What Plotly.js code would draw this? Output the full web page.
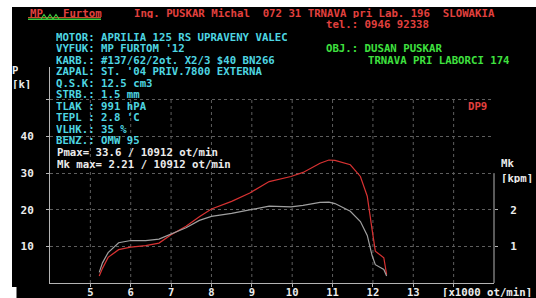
<!DOCTYPE html>
<html>
<head>
<meta charset="utf-8">
<script src="https://cdn.plot.ly/plotly-3.0.1.min.js"></script>
<style>
html,body{margin:0;padding:0;background:#fff;}
#chart{width:536px;height:298px;}
</style>
</head>
<body>
<div id="chart"></div>
<script>
// ---- data ----
const rpmPower = [5.22, 5.30, 5.44, 5.70, 6.00, 6.37, 6.70, 7.00, 7.37, 7.70, 8.00, 8.50, 8.95, 9.43, 9.97, 10.27, 10.69, 10.91, 11.06, 11.44, 11.69, 11.86, 11.98, 12.06, 12.27, 12.34];
const powerK   = [1.9, 4.0, 7.0, 9.1, 9.8, 10.2, 10.9, 13.2, 15.5, 18.1, 20.2, 22.3, 24.6, 27.7, 29.1, 30.2, 32.7, 33.6, 33.5, 32.3, 29.1, 23.7, 14.6, 8.7, 6.9, 2.3];
const rpmTorque = [5.22, 5.30, 5.44, 5.70, 6.00, 6.37, 6.70, 7.00, 7.37, 7.70, 8.00, 8.50, 8.95, 9.43, 9.97, 10.27, 10.69, 10.91, 11.06, 11.44, 11.69, 11.86, 11.98, 12.06, 12.27, 12.34];
const torqueKpm = [0.29, 0.55, 0.83, 1.10, 1.16, 1.16, 1.20, 1.33, 1.51, 1.71, 1.82, 1.90, 1.99, 2.10, 2.08, 2.12, 2.20, 2.21, 2.17, 1.96, 1.68, 1.30, 0.75, 0.50, 0.37, 0.19];

const xTickVals = [5, 6, 7, 8, 9, 10, 11, 12, 13, 14];
const xTickText = ['5', '6', '7', '8', '9', '10', '11', '12', '13', ''];
const yTickVals = [10, 20, 30, 40, 50];
const yTickText = ['10', '20', '30', '40', ''];
const y2TickVals = [1, 2];
const y2TickText = ['1', '2'];

const headerText = 'Ing. PUSKAR Michal  072 31 TRNAVA pri Lab. 196  SLOWAKIA';
const telText = 'tel.: 0946 92338';
const infoLines = [
  'MOTOR: APRILIA 125 RS UPRAVENY VALEC',
  "VYFUK: MP FURTOM '12",
  'KARB.: #137/62/2ot. X2/3 $40 BN266',
  "ZAPAL: ST. '04 PRIV.7800 EXTERNA",
  'Q.S.K: 12.5 cm3',
  'STRB.: 1.5 mm',
  'TLAK : 991 hPA',
  "TEPL : 2.8 'C",
  'VLHK.: 35 %',
  'BENZ.: OMW 95'
];
const maxLines = ['Pmax= 33.6 / 10912 ot/min', 'Mk max= 2.21 / 10912 ot/min'];
const customerLines = ['OBJ.: DUSAN PUSKAR', 'TRNAVA PRI LABORCI 174'];

// ---- layout geometry ----
const W = 536, H = 298;
const M = {l: 50, r: 42, t: 67, b: 15, pad: 0};
const PW = W - M.l - M.r, PH = H - M.t - M.b;
const px = x => (x - M.l) / PW;
const py = y => (H - M.b - y) / PH;
const nb = s => s.replace(/ /g, '\u00a0');

const FONT = 'DejaVu Sans Mono';
const CYAN = '#4ed6e2', RED = '#e2403e', GREEN = '#3fe03f', WHITE = '#ececec';

function txt(text, x, y, color, extra) {
  return Object.assign({
    text: '<b>' + nb(text) + '</b>', xref: 'paper', yref: 'paper',
    x: px(x), y: py(y), xanchor: 'left', yanchor: 'middle',
    showarrow: false, borderpad: 0, height: 10,
    font: {family: FONT, size: 10.7, color: color}
  }, extra || {});
}

const annotations = [];
annotations.push(txt('MP', 29, 13, RED));
annotations.push(txt('Furtom', 62, 13, RED));
annotations.push(txt(headerText, 133, 13, RED));
annotations.push(txt(telText, 325, 24.5, RED));
infoLines.forEach((s, i) => annotations.push(txt(s, 55, 36.5 + 11.55 * i, CYAN)));
maxLines.forEach((s, i) => annotations.push(txt(s, 56, 152 + 11.6 * i, WHITE)));
annotations.push(txt(customerLines[0], 325, 48, GREEN));
annotations.push(txt(customerLines[1], 367, 60, GREEN));
annotations.push(txt('DP9', 467, 106, RED));
annotations.push(txt('P', 11, 70, WHITE));
annotations.push(txt('[k]', 11, 84, WHITE));
annotations.push(txt('Mk', 500, 163, WHITE));
annotations.push(txt('[kpm]', 500, 178, WHITE));
annotations.push(txt('[x1000 ot/min]', 441, 292, WHITE));

const shapes = [];
// black screen background
shapes.push({type: 'rect', xref: 'paper', yref: 'paper', layer: 'below',
  x0: px(12), x1: px(536), y0: py(298), y1: py(7),
  fillcolor: '#000', line: {width: 0}});
shapes.push({type: 'rect', xref: 'paper', yref: 'paper', layer: 'below',
  x0: px(0), x1: px(16.5), y0: py(298), y1: py(287),
  fillcolor: '#fff', line: {width: 0}});
// logo underline & zigzag
shapes.push({type: 'line', xref: 'paper', yref: 'paper', x0: px(28), x1: px(101), y0: py(17.5), y1: py(17.5),
  line: {color: '#c84a2a', width: 1}});
shapes.push({type: 'line', xref: 'paper', yref: 'paper', x0: px(28), x1: px(101), y0: py(19.3), y1: py(19.3),
  line: {color: '#3cc83c', width: 1.6}});
const zz = [[41,19],[44,14.5],[47,19],[50,14.5],[53,19],[56,14.5],[59,19]];
shapes.push({type: 'path', xref: 'paper', yref: 'paper',
  path: 'M' + zz.map(p => px(p[0]) + ',' + py(p[1])).join(' L'),
  line: {color: '#3cc83c', width: 1.2}});
// vertical dotted grid lines (up to 50)
xTickVals.forEach(v => shapes.push({type: 'line', xref: 'x', yref: 'y', layer: 'below',
  x0: v, x1: v, y0: 0, y1: 50, line: {color: '#5e5e5e', width: 1, dash: 'dot'}}));
// right axis line (0 .. 3 kpm)
shapes.push({type: 'line', xref: 'paper', yref: 'y2', x0: 1, x1: 1, y0: 0, y1: 3,
  line: {color: '#b4b4b4', width: 1}});

const tickFont = {family: FONT, size: 11, color: WHITE, weight: 'bold'};
const xTickFont = {family: FONT, size: 10.5, color: WHITE, weight: 'bold'};

const traces = [
  {x: rpmTorque, y: torqueKpm, yaxis: 'y2', type: 'scatter', mode: 'lines',
   line: {color: '#a0a0a0', width: 1.2}, hoverinfo: 'skip'},
  {x: rpmPower, y: powerK, type: 'scatter', mode: 'lines',
   line: {color: '#d83232', width: 1.2}, hoverinfo: 'skip'}
];

const layout = {
  width: W, height: H, autosize: false, margin: M,
  paper_bgcolor: '#fff', plot_bgcolor: 'rgba(0,0,0,0)',
  showlegend: false,
  xaxis: {range: [4, 15], showline: true, linecolor: '#b4b4b4', linewidth: 1,
    ticks: 'outside', ticklen: 3, tickcolor: '#b4b4b4', tickvals: xTickVals, ticktext: xTickText,
    showgrid: false, zeroline: false, tickfont: xTickFont, ticklabelstandoff: -4, fixedrange: true},
  yaxis: {range: [0, 59], showline: true, linecolor: '#b4b4b4', linewidth: 1,
    ticks: 'outside', ticklen: 3, tickcolor: '#b4b4b4', tickvals: yTickVals, ticktext: yTickText,
    showgrid: true, gridcolor: '#5e5e5e', griddash: 'dot', gridwidth: 1,
    zeroline: false, tickfont: tickFont, ticklabelstandoff: 10, fixedrange: true},
  yaxis2: {range: [0, 5.9], overlaying: 'y', side: 'right', showline: false,
    ticks: 'outside', ticklen: 3, tickcolor: '#b4b4b4', tickvals: y2TickVals, ticktext: y2TickText,
    showgrid: false, zeroline: false, tickfont: tickFont, ticklabelstandoff: 10, fixedrange: true},
  shapes: shapes,
  annotations: annotations
};

Plotly.newPlot('chart', traces, layout, {displayModeBar: false, staticPlot: true});
</script>
</body>
</html>
